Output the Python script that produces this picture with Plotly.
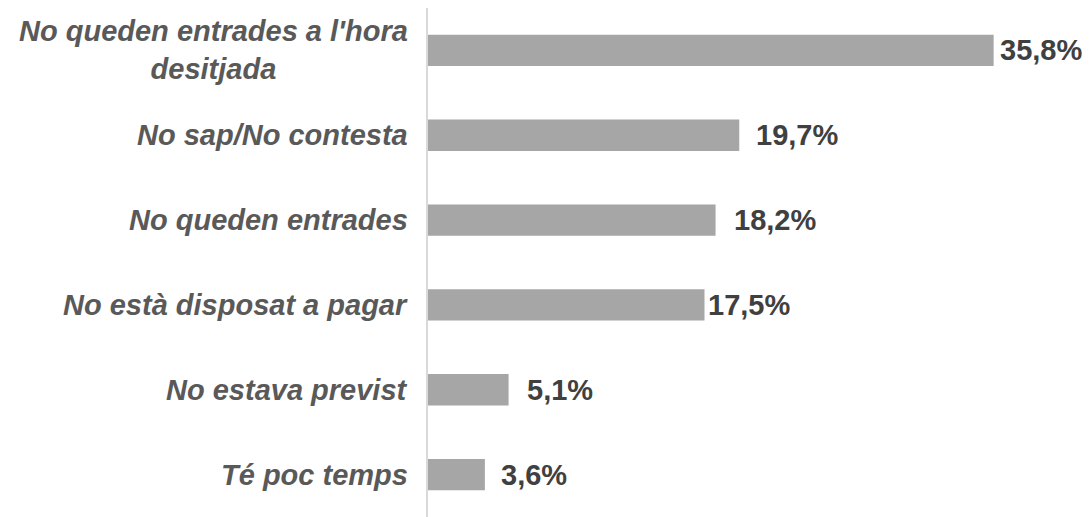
import plotly.graph_objects as go

# motius, de dalt a baix
motius = [
    "No queden entrades a l'hora<br>desitjada",
    "No sap/No contesta",
    "No queden entrades",
    "No està disposat a pagar",
    "No estava previst",
    "Té poc temps",
]
percentatges = [35.8, 19.7, 18.2, 17.5, 5.1, 3.6]
etiquetes = ["35,8%", "19,7%", "18,2%", "17,5%", "5,1%", "3,6%"]

# separacio de cada etiqueta respecte al final de la barra (px)
desplacament = [4, 15, 16, 1, 16, 14]

fig = go.Figure()
fig.add_trace(go.Bar(
    x=percentatges,
    y=motius,
    orientation="h",
    marker=dict(color="#a6a6a6", line=dict(width=0)),
    width=0.37,
    hoverinfo="skip",
))

anotacions = []
for m, v, e, d in zip(motius, percentatges, etiquetes, desplacament):
    # etiqueta de categoria, centrada si ocupa dues linies
    anotacions.append(dict(
        x=0, xref="paper", y=m, yref="y",
        text="<b><i>" + m + "</i></b>",
        xanchor="right", yanchor="middle", align="center",
        xshift=-18, showarrow=False,
        font=dict(family="Liberation Sans, Arial", size=29, color="#595959"),
    ))
    # valor al final de la barra
    anotacions.append(dict(
        x=v, xref="x", y=m, yref="y",
        text="<b>" + e + "</b>",
        xanchor="left", yanchor="middle",
        xshift=d, showarrow=False,
        font=dict(family="Liberation Sans, Arial", size=29, color="#404040"),
    ))

fig.update_layout(
    width=1082, height=517,
    margin=dict(l=420, r=30, t=0, b=8),
    paper_bgcolor="white", plot_bgcolor="white",
    showlegend=False,
    annotations=anotacions,
    xaxis=dict(range=[0, 40], visible=False, fixedrange=True),
    yaxis=dict(
        autorange="reversed",
        showticklabels=False,
        showgrid=False, zeroline=False,
        showline=True, linecolor="#d9d9d9", linewidth=2,
        ticks="",
    ),
)

fig.write_html("out.html")
